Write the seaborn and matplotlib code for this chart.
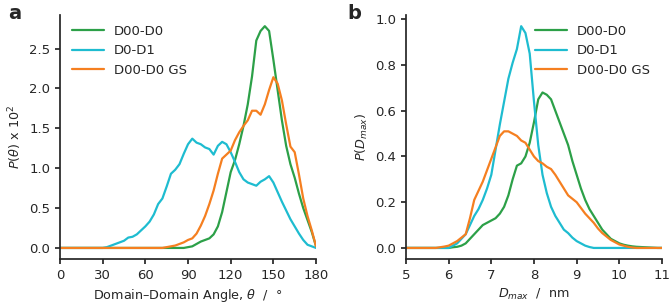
import numpy as np
import pandas as pd
import seaborn as sns
import matplotlib.pyplot as plt

# ---- panel a: domain-domain angle distributions (P(theta) x 10^2)
theta = np.arange(0, 181, 3)

ang_d00_d0 = [0]*29 + [
    0.0, 0.01, 0.02, 0.05, 0.08, 0.10, 0.12, 0.17, 0.27, 0.45,
    0.70, 0.95, 1.10, 1.30, 1.53, 1.80, 2.15, 2.60, 2.72, 2.78,
    2.72, 2.36, 1.98, 1.60, 1.28, 1.05, 0.88, 0.68, 0.50, 0.35,
    0.20, 0.02]

ang_d0_d1 = [0]*10 + [
    0.0, 0.01, 0.03, 0.05, 0.07, 0.09, 0.13, 0.14, 0.17, 0.22,
    0.27, 0.33, 0.42, 0.55, 0.62, 0.77, 0.93, 0.98, 1.05, 1.18,
    1.30, 1.37, 1.32, 1.30, 1.26, 1.24, 1.17, 1.28, 1.33, 1.30,
    1.20, 1.08, 0.95, 0.86, 0.82, 0.80, 0.78, 0.83, 0.86, 0.90,
    0.82, 0.70, 0.58, 0.47, 0.36, 0.27, 0.18, 0.10, 0.04, 0.02,
    0.0]

ang_gs = [0]*25 + [
    0.01, 0.02, 0.03, 0.05, 0.07, 0.10, 0.12, 0.18, 0.28, 0.40,
    0.55, 0.72, 0.93, 1.12, 1.17, 1.22, 1.35, 1.45, 1.53, 1.60,
    1.72, 1.72, 1.67, 1.80, 1.98, 2.14, 2.06, 1.85, 1.55, 1.27,
    1.20, 0.92, 0.62, 0.40, 0.22, 0.02]

# ---- panel b: Dmax distributions
dmax = np.round(np.arange(5.0, 11.01, 0.1), 1)

dm_d00_d0 = [0]*10 + [
    0.0, 0.003, 0.005, 0.01, 0.02, 0.04, 0.06, 0.08, 0.10, 0.11,
    0.12, 0.13, 0.15, 0.18, 0.23, 0.30, 0.36, 0.37, 0.40, 0.46,
    0.55, 0.65, 0.68, 0.67, 0.65, 0.60, 0.55, 0.50, 0.45, 0.38,
    0.32, 0.26, 0.21, 0.17, 0.14, 0.11, 0.08, 0.06, 0.04, 0.03,
    0.02, 0.014, 0.01, 0.007, 0.005, 0.004, 0.003, 0.002, 0.001, 0.0,
    0.0]

dm_d0_d1 = [0]*10 + [
    0.0, 0.01, 0.02, 0.04, 0.06, 0.10, 0.14, 0.17, 0.21, 0.26,
    0.32, 0.43, 0.54, 0.64, 0.74, 0.81, 0.87, 0.97, 0.94, 0.85,
    0.64, 0.45, 0.32, 0.24, 0.18, 0.14, 0.11, 0.08, 0.065, 0.045,
    0.03, 0.02, 0.01, 0.004] + [0]*17

dm_gs = [0]*8 + [
    0.003, 0.006, 0.01, 0.02, 0.03, 0.045, 0.06, 0.13, 0.21, 0.25,
    0.29, 0.34, 0.39, 0.44, 0.49, 0.51, 0.51, 0.50, 0.49, 0.47,
    0.46, 0.43, 0.40, 0.38, 0.37, 0.355, 0.345, 0.32, 0.29, 0.26,
    0.23, 0.215, 0.20, 0.175, 0.15, 0.13, 0.11, 0.085, 0.065, 0.05,
    0.035, 0.025, 0.015, 0.01, 0.005, 0.002] + [0]*7

labels = ["D00-D0", "D0-D1", "D00-D0 GS"]
colors = ["#2ca048", "#1ebcd0", "#f57f20"]

df_a = pd.DataFrame({"x": np.tile(theta, 3),
                     "y": ang_d00_d0 + ang_d0_d1 + ang_gs,
                     "run": np.repeat(labels, len(theta))})
df_b = pd.DataFrame({"x": np.tile(dmax, 3),
                     "y": dm_d00_d0 + dm_d0_d1 + dm_gs,
                     "run": np.repeat(labels, len(dmax))})

sns.set_theme(style="ticks")
plt.rcParams['font.family'] = ['DejaVu Sans']

fig = plt.figure(figsize=(6.71, 3.08), dpi=100)
ax1 = fig.add_axes([0.0894, 0.159, 0.3816, 0.792])
ax2 = fig.add_axes([0.605, 0.159, 0.3816, 0.792])

sns.lineplot(ax=ax1, data=df_a, x="x", y="y", hue="run", palette=colors,
             hue_order=labels, linewidth=1.6)
ax1.set_xlim(0, 180)
ax1.set_xticks(range(0, 181, 30))
ax1.set_yticks([0, 0.5, 1.0, 1.5, 2.0, 2.5])
ax1.set_xlabel(r"Domain–Domain Angle, $\theta$  /  °", fontsize=9.2, labelpad=4)
ax1.set_ylabel(r"$P(\theta)$ x 10$^2$", fontsize=9.2)
ax1.legend(loc="upper left", frameon=False, fontsize=9.5, handlelength=2.4,
           bbox_to_anchor=(0.0, 1.01))

sns.lineplot(ax=ax2, data=df_b, x="x", y="y", hue="run", palette=colors,
             hue_order=labels, linewidth=1.6)
ax2.set_xlim(5, 11)
ax2.set_xticks(range(5, 12))
ax2.set_xlabel(r"$D_{max}$  /  nm", fontsize=9.2, labelpad=4)
ax2.set_ylabel(r"$P(D_{max})$", fontsize=9.2)
ax2.legend(loc="upper right", frameon=False, fontsize=9.5, handlelength=2.4,
           bbox_to_anchor=(1.0, 1.01))

for ax in (ax1, ax2):
    ax.tick_params(labelsize=9.5, length=3.5)
    sns.despine(ax=ax)

fig.text(0.012, 0.955, "a", fontsize=14, fontweight="bold", va="center")
fig.text(0.518, 0.955, "b", fontsize=14, fontweight="bold", va="center")

fig.savefig("out.png", dpi=100)
